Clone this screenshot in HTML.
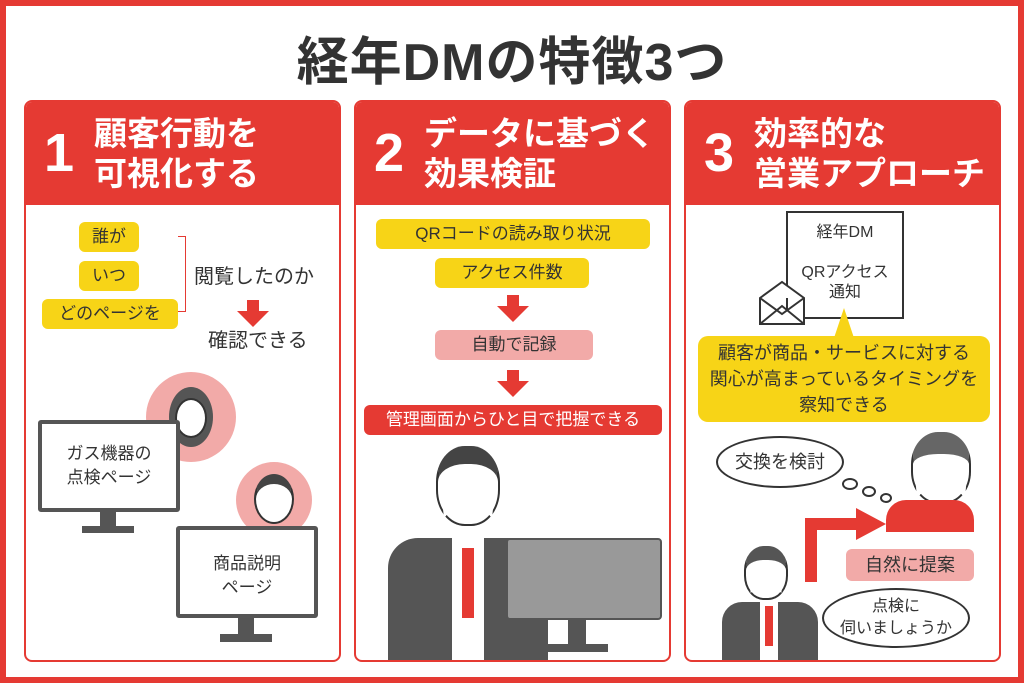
<!DOCTYPE html>
<html><head><meta charset="utf-8"><style>
*{margin:0;padding:0;box-sizing:border-box}
body{width:1024px;height:683px;position:relative;background:#fff;font-family:"Liberation Sans","Noto Sans CJK JP",sans-serif;color:#333;overflow:hidden}
.a{position:absolute}
.frame{left:0;top:0;width:1024px;height:683px;border:6px solid #e53a33}
.title{left:0;top:20px;width:1024px;text-align:center;font-size:52px;font-weight:bold;color:#333;letter-spacing:1px}
.panel{top:100px;width:317px;height:562px;border:2px solid #e53a33;border-radius:8px;overflow:hidden;background:#fff}
.head{left:0;top:0;width:100%;height:103px;background:#e53a33;color:#fff}
.num{left:18px;top:20px;font-size:54px;font-weight:bold}
.ht{left:68px;top:12px;font-size:33px;font-weight:bold;line-height:40px}
.y{background:#f7d417;border-radius:6px;text-align:center;font-size:17px;color:#333}
.p{background:#f2aaa8;border-radius:6px;text-align:center;font-size:17px;color:#333}
.r{background:#e53a33;border-radius:6px;text-align:center;font-size:17px;color:#fff}
.arr{width:0;height:0;border-left:16px solid transparent;border-right:16px solid transparent;border-top:16px solid #e53a33}
.stem{width:12px;background:#e53a33}
.mon{border:4px solid #555;background:#fff;border-radius:3px;text-align:center;font-size:17px;color:#333}
</style></head><body>
<div class="a frame"></div>
<div class="a title">経年DMの特徴3つ</div>

<!-- panel 1 -->
<div class="a panel" style="left:24px">
 <div class="a head"><div class="a num">1</div><div class="a ht">顧客行動を<br>可視化する</div></div>
 <div class="a y" style="left:53px;top:120px;width:60px;height:30px;line-height:30px">誰が</div>
 <div class="a y" style="left:53px;top:159px;width:60px;height:30px;line-height:30px">いつ</div>
 <div class="a y" style="left:16px;top:197px;width:136px;height:30px;line-height:30px">どのページを</div>
 <div class="a" style="left:152px;top:134px;width:8px;height:76px;border:1px solid #e53a33;border-left:none"></div>
 <div class="a" style="left:168px;top:158px;font-size:20px">閲覧したのか</div>
 <div class="a stem" style="left:221px;top:198px;height:12px"></div>
 <div class="a arr" style="left:211px;top:209px"></div>
 <div class="a" style="left:182px;top:222px;font-size:20px">確認できる</div>
 <div class="a" style="left:120px;top:270px;width:90px;height:90px;border-radius:50%;background:#f2aaa8"></div>
 <div class="a" style="left:143px;top:285px;width:44px;height:60px;border-radius:50%;background:#555"></div>
 <div class="a" style="left:149px;top:296px;width:32px;height:40px;border-radius:50%;background:#fff;border:2px solid #333"></div>
 <div class="a mon" style="left:12px;top:318px;width:142px;height:92px;padding-top:18px;line-height:24px">ガス機器の<br>点検ページ</div>
 <div class="a" style="left:74px;top:410px;width:16px;height:16px;background:#555"></div>
 <div class="a" style="left:56px;top:424px;width:52px;height:7px;background:#555"></div>
 <div class="a" style="left:210px;top:360px;width:76px;height:76px;border-radius:50%;background:#f2aaa8"></div>
 <div class="a" style="left:228px;top:372px;width:40px;height:50px;border-radius:50%;background:#fff;border:2px solid #333;border-top:10px solid #444"></div>
 <div class="a mon" style="left:150px;top:424px;width:142px;height:92px;padding-top:22px;line-height:24px">商品説明<br>ページ</div>
 <div class="a" style="left:212px;top:516px;width:16px;height:18px;background:#555"></div>
 <div class="a" style="left:194px;top:532px;width:52px;height:8px;background:#555"></div>
</div>

<!-- panel 2 -->
<div class="a panel" style="left:354px">
 <div class="a head"><div class="a num">2</div><div class="a ht">データに基づく<br>効果検証</div></div>
 <div class="a y" style="left:20px;top:117px;width:274px;height:30px;line-height:30px">QRコードの読み取り状況</div>
 <div class="a y" style="left:79px;top:156px;width:154px;height:30px;line-height:30px">アクセス件数</div>
 <div class="a stem" style="left:151px;top:193px;height:12px"></div>
 <div class="a arr" style="left:141px;top:204px"></div>
 <div class="a p" style="left:79px;top:228px;width:158px;height:30px;line-height:30px">自動で記録</div>
 <div class="a stem" style="left:151px;top:268px;height:12px"></div>
 <div class="a arr" style="left:141px;top:279px"></div>
 <div class="a r" style="left:8px;top:303px;width:298px;height:30px;line-height:30px">管理画面からひと目で把握できる</div>
 <div class="a" style="left:80px;top:344px;width:64px;height:80px;border-radius:45%;background:#fff;border:2px solid #333;border-top:18px solid #444"></div>
 <div class="a" style="left:32px;top:436px;width:160px;height:130px;background:#555;border-radius:30px 30px 0 0"></div>
 <div class="a" style="left:96px;top:436px;width:32px;height:126px;background:#fff"></div>
 <div class="a" style="left:106px;top:446px;width:12px;height:70px;background:#e53a33"></div>
 <div class="a" style="left:150px;top:436px;width:156px;height:82px;background:#999;border:2px solid #555;border-radius:4px"></div>
 <div class="a" style="left:212px;top:518px;width:18px;height:28px;background:#555"></div>
 <div class="a" style="left:190px;top:542px;width:62px;height:8px;background:#555"></div>
</div>

<!-- panel 3 -->
<div class="a panel" style="left:684px">
 <div class="a head"><div class="a num">3</div><div class="a ht">効率的な<br>営業アプローチ</div></div>
 <div class="a" style="left:100px;top:109px;width:118px;height:108px;border:2px solid #333;background:#fff;text-align:center;font-size:16px;line-height:20px;padding-top:10px">経年DM<br><br>QRアクセス<br>通知</div>
 <svg class="a" style="left:72px;top:178px" width="48" height="46"><path d="M2 18 L24 2 L46 18 V44 H2 Z M2 18 L24 34 L46 18 M2 44 L24 26 L46 44" fill="#fff" stroke="#333" stroke-width="2"/></svg>
 <svg class="a" style="left:148px;top:206px" width="20" height="30"><path d="M10 0 L20 30 H0 Z" fill="#f7d417"/></svg>
 <div class="a y" style="left:12px;top:234px;width:292px;height:86px;border-radius:10px;font-size:18px;line-height:26px;padding-top:4px">顧客が商品・サービスに対する<br>関心が高まっているタイミングを<br>察知できる</div>
 <div class="a" style="left:30px;top:334px;width:128px;height:52px;border:2px solid #333;border-radius:50%;text-align:center;line-height:48px;font-size:18px">交換を検討</div>
 <div class="a" style="left:156px;top:376px;width:16px;height:12px;border:2px solid #333;border-radius:50%"></div>
 <div class="a" style="left:176px;top:384px;width:14px;height:11px;border:2px solid #333;border-radius:50%"></div>
 <div class="a" style="left:194px;top:391px;width:12px;height:10px;border:2px solid #333;border-radius:50%"></div>
 <div class="a" style="left:225px;top:330px;width:60px;height:72px;border-radius:45%;background:#fff;border:2px solid #333;border-top:22px solid #666"></div>
 <div class="a" style="left:200px;top:398px;width:88px;height:32px;background:#e53a33;border-radius:20px 20px 0 0"></div>
 <div class="a" style="left:119px;top:416px;width:12px;height:64px;background:#e53a33"></div>
 <div class="a" style="left:119px;top:416px;width:54px;height:12px;background:#e53a33"></div>
 <svg class="a" style="left:170px;top:406px" width="30" height="32"><path d="M0 0 L30 16 L0 32 Z" fill="#e53a33"/></svg>
 <div class="a p" style="left:160px;top:447px;width:128px;height:32px;line-height:32px;font-size:18px">自然に提案</div>
 <div class="a" style="left:58px;top:444px;width:44px;height:54px;border-radius:45%;background:#fff;border:2px solid #333;border-top:14px solid #555"></div>
 <div class="a" style="left:36px;top:500px;width:96px;height:60px;background:#555;border-radius:20px 20px 0 0"></div>
 <div class="a" style="left:74px;top:500px;width:18px;height:60px;background:#fff"></div>
 <div class="a" style="left:79px;top:504px;width:8px;height:40px;background:#e53a33"></div>
 <div class="a" style="left:136px;top:486px;width:148px;height:60px;border:2px solid #333;border-radius:50%;text-align:center;font-size:16px;line-height:22px;padding-top:6px">点検に<br>伺いましょうか</div>
</div>
</body></html>
